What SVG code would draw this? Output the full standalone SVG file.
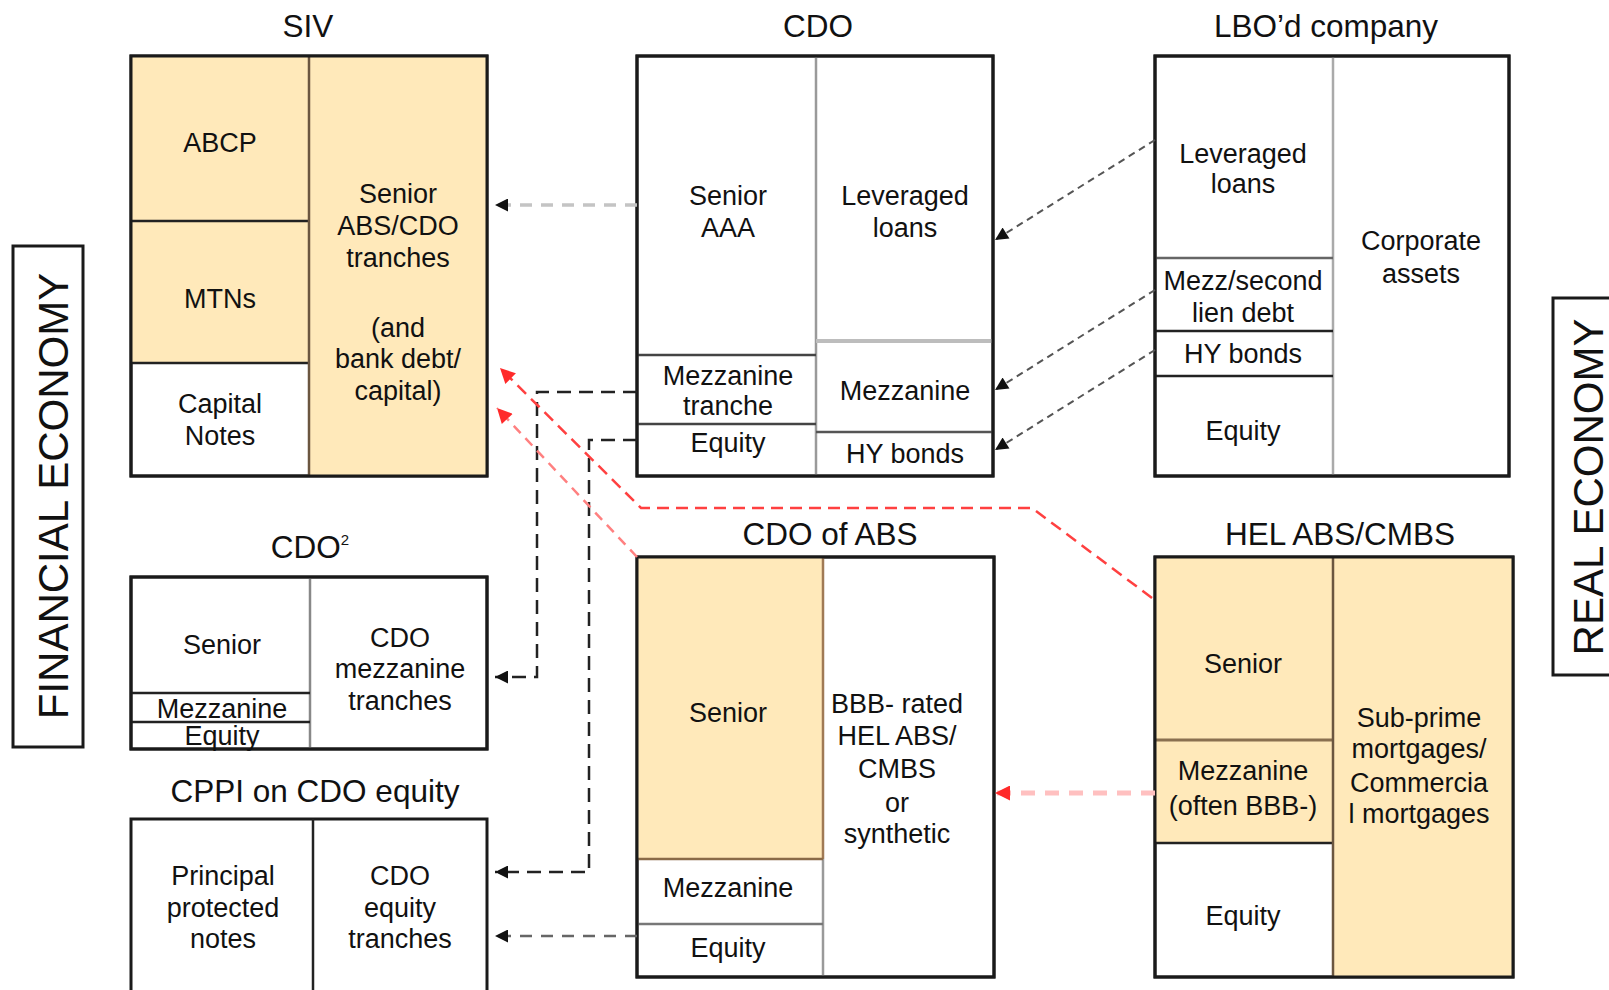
<svg xmlns="http://www.w3.org/2000/svg" width="1609" height="990" viewBox="0 0 1609 990">
<style>
text{font-family:"Liberation Sans",Arial,sans-serif;fill:#111;text-anchor:middle}
.t{font-size:31.5px}
.b{font-size:27px}
.e{font-size:42px}
.box{fill:#fff;stroke:#1a1a1a;stroke-width:3}
.or{fill:#FFE9BA;stroke:none}
.br{stroke:#6b5640;stroke-width:2.5;fill:none}
.gr{stroke:#9a9a9a;stroke-width:2.5;fill:none}
.bk{stroke:#222;stroke-width:2.5;fill:none}
.lg{stroke:#bdbdbd;stroke-width:4;fill:none}
.outline{fill:none;stroke:#1a1a1a;stroke-width:3}
</style>
<defs>
<marker id="ab" viewBox="0 0 10 10" refX="10" refY="5" markerWidth="15" markerHeight="13" markerUnits="userSpaceOnUse" orient="auto"><path d="M0,0 L10,5 L0,10 z" fill="#111"/></marker>
<marker id="ar" viewBox="0 0 10 10" refX="10" refY="5" markerWidth="17" markerHeight="15" markerUnits="userSpaceOnUse" orient="auto"><path d="M0,0 L10,5 L0,10 z" fill="#ff2a2a"/></marker>
</defs>

<g id="financial-economy">
<rect x="13" y="246" width="70" height="501" class="outline"/>
<text class="e" transform="translate(68,496) rotate(-90)">FINANCIAL ECONOMY</text>
</g>

<g id="real-economy">
<rect x="1553" y="298" width="80" height="377" class="outline"/>
<text class="e" transform="translate(1603,487) rotate(-90)">REAL ECONOMY</text>
</g>

<g id="siv">
<text class="t" x="308" y="37">SIV</text>
<rect x="131" y="56" width="356" height="420" class="box"/>
<rect x="131" y="56" width="178" height="307" class="or"/>
<rect x="309" y="56" width="178" height="420" class="or"/>
<line x1="131" y1="221" x2="309" y2="221" class="bk"/>
<line x1="131" y1="363" x2="309" y2="363" class="bk"/>
<line x1="309" y1="56" x2="309" y2="476" class="br"/>
<rect x="131" y="56" width="356" height="420" class="outline"/>
<text class="b" x="220" y="152">ABCP</text>
<text class="b" x="220" y="308">MTNs</text>
<text class="b" x="220" y="413">Capital</text>
<text class="b" x="220" y="445">Notes</text>
<text class="b" x="398" y="203">Senior</text>
<text class="b" x="398" y="235">ABS/CDO</text>
<text class="b" x="398" y="267">tranches</text>
<text class="b" x="398" y="337">(and</text>
<text class="b" x="398" y="368">bank debt/</text>
<text class="b" x="398" y="400">capital)</text>
</g>

<g id="cdo">
<text class="t" x="818" y="37">CDO</text>
<rect x="637" y="56" width="356" height="420" class="box"/>
<line x1="816" y1="56" x2="816" y2="476" class="gr"/>
<line x1="637" y1="355" x2="816" y2="355" class="bk" style="stroke:#444"/>
<line x1="637" y1="424" x2="816" y2="424" class="bk" style="stroke:#444"/>
<line x1="816" y1="341" x2="993" y2="341" class="lg"/>
<line x1="816" y1="432" x2="993" y2="432" class="bk" style="stroke:#555"/>
<rect x="637" y="56" width="356" height="420" class="outline"/>
<text class="b" x="728" y="205">Senior</text>
<text class="b" x="728" y="237">AAA</text>
<text class="b" x="905" y="205">Leveraged</text>
<text class="b" x="905" y="237">loans</text>
<text class="b" x="728" y="385">Mezzanine</text>
<text class="b" x="728" y="415">tranche</text>
<text class="b" x="728" y="452">Equity</text>
<text class="b" x="905" y="400">Mezzanine</text>
<text class="b" x="905" y="463">HY bonds</text>
</g>

<g id="lbo-company">
<text class="t" x="1326" y="37">LBO’d company</text>
<rect x="1155" y="56" width="354" height="420" class="box"/>
<line x1="1333" y1="56" x2="1333" y2="476" class="gr" style="stroke:#aaa"/>
<line x1="1155" y1="258" x2="1333" y2="258" class="bk" style="stroke:#666"/>
<line x1="1155" y1="331" x2="1333" y2="331" class="bk"/>
<line x1="1155" y1="376" x2="1333" y2="376" class="bk"/>
<rect x="1155" y="56" width="354" height="420" class="outline"/>
<text class="b" x="1243" y="163">Leveraged</text>
<text class="b" x="1243" y="193">loans</text>
<text class="b" x="1243" y="290">Mezz/second</text>
<text class="b" x="1243" y="322">lien debt</text>
<text class="b" x="1243" y="363">HY bonds</text>
<text class="b" x="1243" y="440">Equity</text>
<text class="b" x="1421" y="250">Corporate</text>
<text class="b" x="1421" y="283">assets</text>
</g>

<g id="cdo-squared">
<text class="t" x="310" y="558">CDO<tspan font-size="15" dy="-13">2</tspan></text>
<rect x="131" y="577" width="356" height="172" class="box"/>
<line x1="310" y1="577" x2="310" y2="749" class="gr" style="stroke:#888"/>
<line x1="131" y1="693" x2="310" y2="693" class="bk"/>
<line x1="131" y1="722" x2="310" y2="722" class="bk"/>
<rect x="131" y="577" width="356" height="172" class="outline"/>
<text class="b" x="222" y="654">Senior</text>
<text class="b" x="222" y="718">Mezzanine</text>
<text class="b" x="222" y="745">Equity</text>
<text class="b" x="400" y="647">CDO</text>
<text class="b" x="400" y="678">mezzanine</text>
<text class="b" x="400" y="710">tranches</text>
</g>

<g id="cppi">
<text class="t" x="315" y="802">CPPI on CDO equity</text>
<rect x="131" y="819" width="356" height="190" class="box"/>
<line x1="313" y1="819" x2="313" y2="1000" class="bk"/>
<text class="b" x="223" y="885">Principal</text>
<text class="b" x="223" y="917">protected</text>
<text class="b" x="223" y="948">notes</text>
<text class="b" x="400" y="885">CDO</text>
<text class="b" x="400" y="917">equity</text>
<text class="b" x="400" y="948">tranches</text>
</g>

<g id="cdo-of-abs">
<text class="t" x="830" y="545">CDO of ABS</text>
<rect x="637" y="557" width="357" height="420" class="box"/>
<rect x="637" y="557" width="186" height="302" class="or"/>
<line x1="823" y1="557" x2="823" y2="859" class="br" style="stroke:#a07a55"/>
<line x1="823" y1="859" x2="823" y2="977" class="gr"/>
<line x1="637" y1="859" x2="823" y2="859" class="br" style="stroke:#8a6a48"/>
<line x1="637" y1="924" x2="823" y2="924" class="gr" style="stroke:#777"/>
<rect x="637" y="557" width="357" height="420" class="outline"/>
<text class="b" x="728" y="722">Senior</text>
<text class="b" x="728" y="897">Mezzanine</text>
<text class="b" x="728" y="957">Equity</text>
<text class="b" x="897" y="713">BBB- rated</text>
<text class="b" x="897" y="745">HEL ABS/</text>
<text class="b" x="897" y="778">CMBS</text>
<text class="b" x="897" y="812">or</text>
<text class="b" x="897" y="843">synthetic</text>
</g>

<g id="hel-abs-cmbs">
<text class="t" x="1340" y="545">HEL ABS/CMBS</text>
<rect x="1155" y="557" width="358" height="420" class="box"/>
<rect x="1155" y="557" width="178" height="286" class="or"/>
<rect x="1333" y="557" width="180" height="420" class="or"/>
<line x1="1155" y1="740" x2="1333" y2="740" class="br" style="stroke:#8a7050;stroke-width:3"/>
<line x1="1155" y1="843" x2="1333" y2="843" class="bk"/>
<line x1="1333" y1="557" x2="1333" y2="977" class="br"/>
<rect x="1155" y="557" width="358" height="420" class="outline"/>
<text class="b" x="1243" y="673">Senior</text>
<text class="b" x="1243" y="780">Mezzanine</text>
<text class="b" x="1243" y="815">(often BBB-)</text>
<text class="b" x="1243" y="925">Equity</text>
<text class="b" x="1419" y="727">Sub-prime</text>
<text class="b" x="1419" y="758">mortgages/</text>
<text class="b" x="1419" y="792">Commercia</text>
<text class="b" x="1419" y="823">l mortgages</text>
</g>

<g id="connectors" fill="none">
<path d="M637,205 H495" stroke="#c4c4c4" stroke-width="3.5" stroke-dasharray="12 9" marker-end="url(#ab)"/>
<path d="M637,392 H537 V677 H495" stroke="#222" stroke-width="2.5" stroke-dasharray="14 8" marker-end="url(#ab)"/>
<path d="M637,440 H589 V872 H495" stroke="#222" stroke-width="2.5" stroke-dasharray="14 8" marker-end="url(#ab)"/>
<path d="M637,936 H495" stroke="#666" stroke-width="2.5" stroke-dasharray="12 9" marker-end="url(#ab)"/>
<path d="M1155,140 L995,240" stroke="#555" stroke-width="2" stroke-dasharray="7 5" marker-end="url(#ab)"/>
<path d="M1155,290 L995,390" stroke="#555" stroke-width="2" stroke-dasharray="7 5" marker-end="url(#ab)"/>
<path d="M1155,350 L995,450" stroke="#555" stroke-width="2" stroke-dasharray="7 5" marker-end="url(#ab)"/>
<path d="M1152,598 L1032,508 H641 L500,368" stroke="#ff4040" stroke-width="2.5" stroke-dasharray="12 7" marker-end="url(#ar)"/>
<path d="M637,557 L497,408" stroke="#ff8080" stroke-width="2.5" stroke-dasharray="10 7" marker-end="url(#ar)"/>
<path d="M1155,793 H995" stroke="#ffc0c0" stroke-width="5" stroke-dasharray="14 10" marker-end="url(#ar)"/>
</g>
</svg>
